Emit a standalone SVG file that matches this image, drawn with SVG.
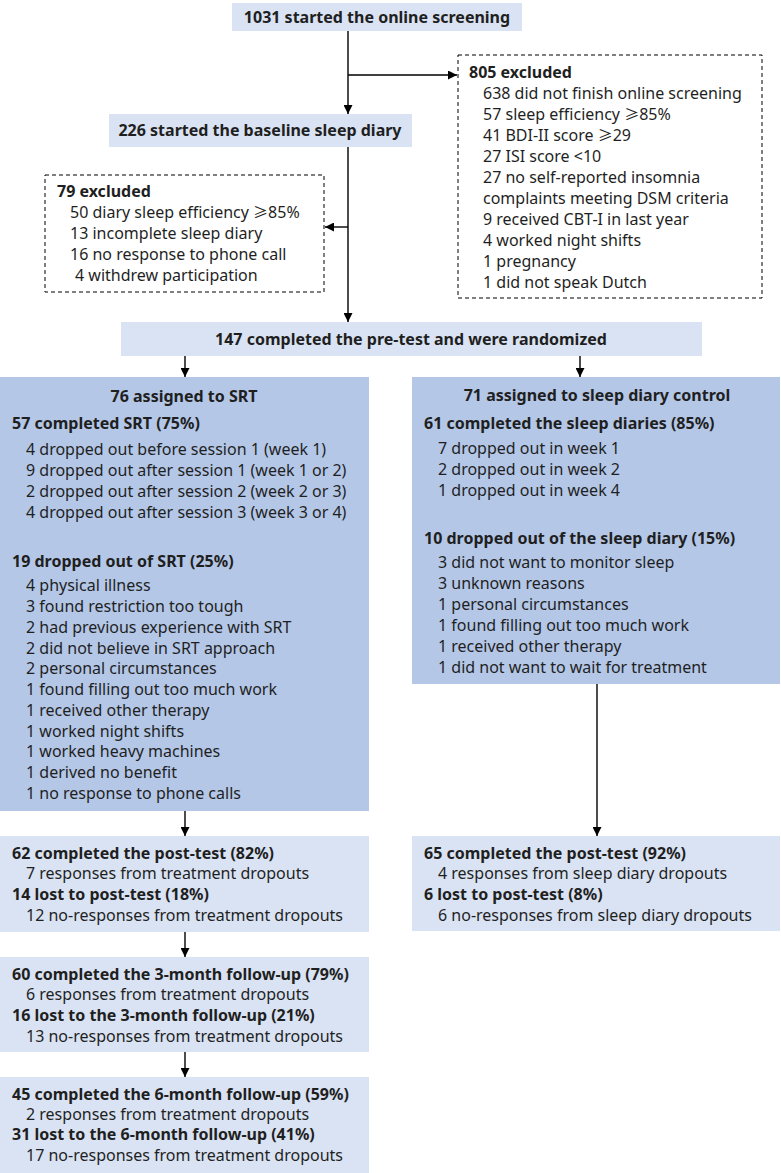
<svg xmlns="http://www.w3.org/2000/svg" width="781" height="1173" viewBox="0 0 781 1173">
<defs>
<marker id="ah" viewBox="0 0 10 10" refX="10" refY="5" markerWidth="9" markerHeight="9" markerUnits="userSpaceOnUse" orient="auto">
<path d="M0,0 L10,5 L0,10 z" fill="#000"/>
</marker>
<style>
text{font-family:"Noto Sans","Noto Sans CJK SC",sans-serif;font-size:16px;fill:#1f1f1f}
.b{font-weight:bold}
.c{text-anchor:middle}
.g{font-family:"Noto Sans CJK SC",sans-serif;font-size:15px}
.light{fill:#dae3f3}
.dark{fill:#b4c7e7}
.dash{fill:#fff;stroke:#000;stroke-width:1;stroke-dasharray:4 3}
.conn line{stroke:#000;stroke-width:1.4;marker-end:url(#ah)}
</style>
</defs>
<rect width="781" height="1173" fill="#fff"/>

<g id="connectors" class="conn">
<line x1="348" y1="31" x2="348" y2="114"/>
<line x1="348" y1="75" x2="457" y2="75"/>
<line x1="348" y1="147" x2="348" y2="322"/>
<line x1="348" y1="227" x2="325" y2="227"/>
<line x1="185" y1="356" x2="185" y2="377"/>
<line x1="580" y1="356" x2="580" y2="377"/>
<line x1="185" y1="811" x2="185" y2="836"/>
<line x1="597" y1="684" x2="597" y2="836"/>
<line x1="185" y1="932" x2="185" y2="957"/>
<line x1="185" y1="1052" x2="185" y2="1077"/>
</g>

<g id="n-screening">
<rect class="light" x="232" y="3" width="290" height="28"/>
<text class="b c" x="377" y="23">1031 started the online screening</text>
</g>

<g id="n-excluded805">
<rect class="dash" x="458" y="55" width="304" height="243"/>
<text class="b" x="469" y="78">805 excluded</text>
<text x="483" y="99">638 did not finish online screening</text>
<text x="483" y="120">57 sleep efficiency <tspan class="g">≥</tspan>85%</text>
<text x="483" y="141">41 BDI-II score <tspan class="g">≥</tspan>29</text>
<text x="483" y="162">27 ISI score &lt;10</text>
<text x="483" y="183">27 no self-reported insomnia</text>
<text x="483" y="204">complaints meeting DSM criteria</text>
<text x="483" y="225">9 received CBT-I in last year</text>
<text x="483" y="246">4 worked night shifts</text>
<text x="483" y="267">1 pregnancy</text>
<text x="483" y="288">1 did not speak Dutch</text>
</g>

<g id="n-baseline">
<rect class="light" x="109" y="114" width="303" height="33"/>
<text class="b c" x="260" y="136">226 started the baseline sleep diary</text>
</g>

<g id="n-excluded79">
<rect class="dash" x="45" y="175" width="279" height="117"/>
<text class="b" x="57" y="197">79 excluded</text>
<text x="70" y="218">50 diary sleep efficiency <tspan class="g">≥</tspan>85%</text>
<text x="70" y="239">13 incomplete sleep diary</text>
<text x="70" y="260">16 no response to phone call</text>
<text x="75" y="281">4 withdrew participation</text>
</g>

<g id="n-randomized">
<rect class="light" x="121" y="322" width="581" height="34"/>
<text class="b c" x="411" y="345">147 completed the pre-test and were randomized</text>
</g>

<g id="n-srt">
<rect class="dark" x="0" y="377" width="369" height="434"/>
<text class="b c" x="184" y="402">76 assigned to SRT</text>
<text class="b" x="12" y="429">57 completed SRT (75%)</text>
<text x="26" y="455">4 dropped out before session 1 (week 1)</text>
<text x="26" y="476">9 dropped out after session 1 (week 1 or 2)</text>
<text x="26" y="497">2 dropped out after session 2 (week 2 or 3)</text>
<text x="26" y="518">4 dropped out after session 3 (week 3 or 4)</text>
<text class="b" x="12" y="567">19 dropped out of SRT (25%)</text>
<text x="26" y="591">4 physical illness</text>
<text x="26" y="612">3 found restriction too tough</text>
<text x="26" y="633">2 had previous experience with SRT</text>
<text x="26" y="654">2 did not believe in SRT approach</text>
<text x="26" y="674">2 personal circumstances</text>
<text x="26" y="695">1 found filling out too much work</text>
<text x="26" y="716">1 received other therapy</text>
<text x="26" y="737">1 worked night shifts</text>
<text x="26" y="757">1 worked heavy machines</text>
<text x="26" y="778">1 derived no benefit</text>
<text x="26" y="799">1 no response to phone calls</text>
</g>

<g id="n-control">
<rect class="dark" x="412" y="377" width="368" height="307"/>
<text class="b c" x="597" y="401">71 assigned to sleep diary control</text>
<text class="b" x="424" y="429">61 completed the sleep diaries (85%)</text>
<text x="438" y="454">7 dropped out in week 1</text>
<text x="438" y="475">2 dropped out in week 2</text>
<text x="438" y="496">1 dropped out in week 4</text>
<text class="b" x="424" y="544">10 dropped out of the sleep diary (15%)</text>
<text x="438" y="568">3 did not want to monitor sleep</text>
<text x="438" y="589">3 unknown reasons</text>
<text x="438" y="610">1 personal circumstances</text>
<text x="438" y="631">1 found filling out too much work</text>
<text x="438" y="652">1 received other therapy</text>
<text x="438" y="673">1 did not want to wait for treatment</text>
</g>

<g id="n-srt-post">
<rect class="light" x="0" y="836" width="369" height="96"/>
<text class="b" x="12" y="859">62 completed the post-test (82%)</text>
<text x="26" y="879">7 responses from treatment dropouts</text>
<text class="b" x="12" y="900">14 lost to post-test (18%)</text>
<text x="26" y="921">12 no-responses from treatment dropouts</text>
</g>

<g id="n-srt-3m">
<rect class="light" x="0" y="957" width="369" height="95"/>
<text class="b" x="12" y="980">60 completed the 3-month follow-up (79%)</text>
<text x="26" y="1000">6 responses from treatment dropouts</text>
<text class="b" x="12" y="1021">16 lost to the 3-month follow-up (21%)</text>
<text x="26" y="1042">13 no-responses from treatment dropouts</text>
</g>

<g id="n-srt-6m">
<rect class="light" x="0" y="1077" width="369" height="96"/>
<text class="b" x="12" y="1100">45 completed the 6-month follow-up (59%)</text>
<text x="26" y="1120">2 responses from treatment dropouts</text>
<text class="b" x="12" y="1140">31 lost to the 6-month follow-up (41%)</text>
<text x="26" y="1161">17 no-responses from treatment dropouts</text>
</g>

<g id="n-control-post">
<rect class="light" x="412" y="836" width="368" height="95"/>
<text class="b" x="424" y="859">65 completed the post-test (92%)</text>
<text x="438" y="879">4 responses from sleep diary dropouts</text>
<text class="b" x="424" y="900">6 lost to post-test (8%)</text>
<text x="438" y="921">6 no-responses from sleep diary dropouts</text>
</g>
</svg>
